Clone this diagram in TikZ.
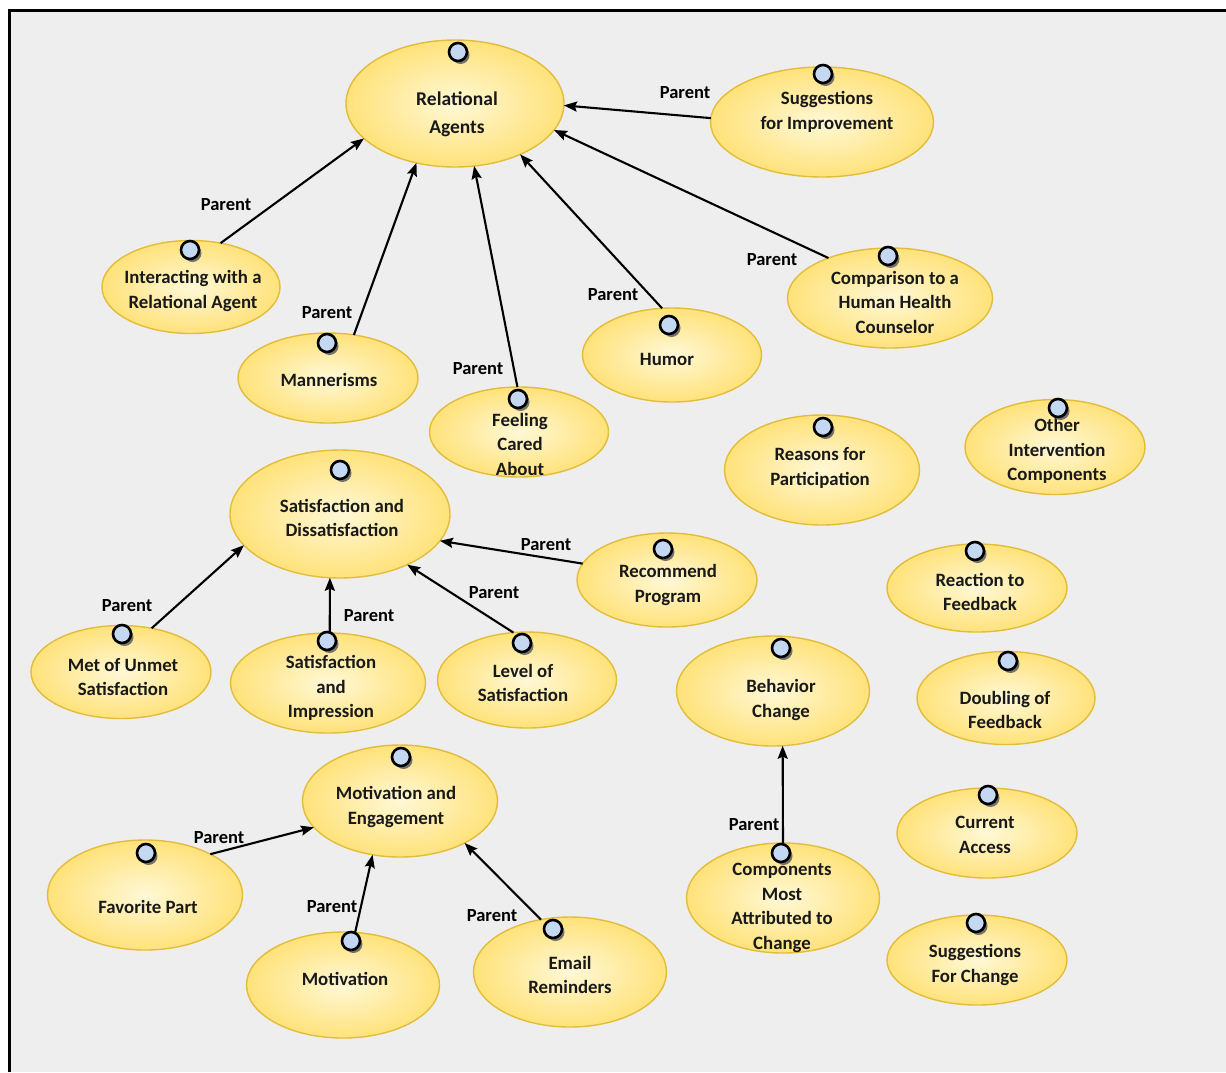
\documentclass[tikz,border=0pt]{standalone}
\usepackage{fontspec}
\setmainfont{Carlito}
\usetikzlibrary{arrows.meta,shadows,shapes.geometric}
\definecolor{bg}{HTML}{EEEEEE}
\definecolor{ellin}{HTML}{FFF8D6}
\definecolor{ellout}{HTML}{FFE27A}
\definecolor{elldraw}{HTML}{E3BD3A}
\definecolor{dotfill}{HTML}{C4D8F2}
\tikzset{
  ell/.style={ellipse, draw=elldraw, line width=1.4pt, inner color=ellin, outer color=ellout, inner sep=0pt, outer sep=0pt},
  txt/.style={align=center, font=\bfseries\fontsize{18.8}{24.5}\selectfont, inner sep=0pt, text=black!90},
  lbl/.style={font=\bfseries\fontsize{18.5}{20}\selectfont, inner sep=0pt},
  dotc/.style={circle, draw=black, line width=2.6pt, fill=dotfill, minimum size=18pt, inner sep=0pt,
    drop shadow={shadow xshift=2.5pt, shadow yshift=-3pt, fill=black!60, opacity=0.9}},
  par/.style={line width=2.1pt, -{Stealth[length=13pt,width=10pt,inset=2pt]}}
}
\begin{document}
\begin{tikzpicture}[x=1pt,y=-1pt]
\useasboundingbox (0,0) rectangle (1226,1072);
\fill[white] (0,0) rectangle (1226,1072);
\fill[bg] (9,10) rectangle (1226,1072);
\draw[line width=3pt] (9,1072) -- (9,10) -- (1226,10);

% ellipses: name, centre, size
\node[ell, minimum width=218, minimum height=127] (ra) at (455,103.5) {};
\node[ell, minimum width=223, minimum height=110] (sugg) at (822,122) {};
\node[ell, minimum width=178, minimum height=93] (inter) at (191,287) {};
\node[ell, minimum width=180, minimum height=90] (mann) at (328,378) {};
\node[ell, minimum width=179, minimum height=90] (feel) at (519,432) {};
\node[ell, minimum width=179, minimum height=94] (humor) at (672,355) {};
\node[ell, minimum width=205, minimum height=100] (comp) at (890,298) {};
\node[ell, minimum width=195, minimum height=110] (reas) at (822,470) {};
\node[ell, minimum width=180, minimum height=95] (other) at (1055,447) {};
\node[ell, minimum width=220, minimum height=128] (sat) at (340,514) {};
\node[ell, minimum width=180, minimum height=94] (rec) at (667,580) {};
\node[ell, minimum width=180, minimum height=88] (react) at (977,588) {};
\node[ell, minimum width=180, minimum height=93] (met) at (121,672) {};
\node[ell, minimum width=195, minimum height=100] (simp) at (328,683) {};
\node[ell, minimum width=179, minimum height=96] (level) at (527,680) {};
\node[ell, minimum width=193, minimum height=110] (beh) at (773,691) {};
\node[ell, minimum width=178, minimum height=93] (doub) at (1006,698) {};
\node[ell, minimum width=195, minimum height=112] (mot) at (400,801) {};
\node[ell, minimum width=180, minimum height=90] (curr) at (987,833) {};
\node[ell, minimum width=195, minimum height=110] (fav) at (145,895) {};
\node[ell, minimum width=193, minimum height=110] (compo) at (783,898) {};
\node[ell, minimum width=180, minimum height=90] (sch) at (977,960) {};
\node[ell, minimum width=193, minimum height=106] (motiv) at (343,985) {};
\node[ell, minimum width=193, minimum height=110] (email) at (570,972) {};

% texts
\node[txt, font=\bfseries\fontsize{19.5}{28}\selectfont] (ra-t) at (457,114) {Relational\\Agents};
\node[txt] (sugg-t) at (827,112) {Suggestions\\for Improvement};
\node[txt] (inter-t) at (193,291) {Interacting with a\\Relational Agent};
\node[txt] (mann-t) at (329,380) {Mannerisms};
\node[txt] (feel-t) at (520,444) {Feeling\\Cared\\About};
\node[txt] (humor-t) at (667,359) {Humor};
\node[txt] (comp-t) at (895,302) {Comparison to a\\Human Health\\Counselor};
\node[txt] (reas-t) at (820,468) {Reasons for\\Participation};
\node[txt] (other-t) at (1057,451) {Other\\Intervention\\Components};
\node[txt] (sat-t) at (342,518) {Satisfaction and\\Dissatisfaction};
\node[txt] (rec-t) at (668,585) {Recommend\\Program};
\node[txt] (react-t) at (980,592) {Reaction to\\Feedback};
\node[txt] (met-t) at (123,677) {Met of Unmet\\Satisfaction};
\node[txt] (simp-t) at (331,688) {Satisfaction\\and\\Impression};
\node[txt] (level-t) at (523,683) {Level of\\Satisfaction};
\node[txt] (beh-t) at (781,700) {Behavior\\Change};
\node[txt] (doub-t) at (1005,710) {Doubling of\\Feedback};
\node[txt] (mot-t) at (396,807) {Motivation and\\Engagement};
\node[txt] (curr-t) at (985,835) {Current\\Access};
\node[txt] (fav-t) at (148,907) {Favorite Part};
\node[txt] (compo-t) at (782,908) {Components\\Most\\Attributed to\\Change};
\node[txt] (sch-t) at (975,965) {Suggestions\\For Change};
\node[txt] (motiv-t) at (345,979) {Motivation};
\node[txt] (email-t) at (570,975) {Email\\Reminders};

% connectors
\draw[par] (inter.56) -- (ra.201.6);
\draw[par] (mann.59) -- (ra.237);
\draw[par] (feel.92) -- (ra.287);
\draw[par] (humor.102) -- (ra.322.6);
\draw[par] (comp.147) -- (ra.345.5);
\draw[par] (sugg.178) -- (ra.359);
\draw[par] (met.55) -- (sat.198.4);
\draw[par] (simp.88) -- (sat.261);
\draw[par] (level.106) -- (sat.323.6);
\draw[par] (rec.169.6) -- (sat.345.7);
\draw[par] (fav.32) -- (mot.197.6);
\draw[par] (motiv.77) -- (mot.243.8);
\draw[par] (email.119) -- (mot.327);
\draw[par] (compo.90) -- (beh.280);

% connector labels
\node[lbl] (l1) at (226,205) {Parent};
\node[lbl] (l2) at (327,313) {Parent};
\node[lbl] (l3) at (478,369) {Parent};
\node[lbl] (l4) at (613,295) {Parent};
\node[lbl] (l5) at (772,260) {Parent};
\node[lbl] (l6) at (685,93) {Parent};
\node[lbl] (l7) at (127,606) {Parent};
\node[lbl] (l8) at (369,616) {Parent};
\node[lbl] (l9) at (494,593) {Parent};
\node[lbl] (l10) at (546,545) {Parent};
\node[lbl] (l11) at (219,838) {Parent};
\node[lbl] (l12) at (332,907) {Parent};
\node[lbl] (l13) at (492,916) {Parent};
\node[lbl] (l14) at (754,825) {Parent};

% small circles
\node[dotc] (ra-c) at (458,52) {};
\node[dotc] (sugg-c) at (823,74) {};
\node[dotc] (inter-c) at (190,250) {};
\node[dotc] (mann-c) at (327,343) {};
\node[dotc] (feel-c) at (518,399) {};
\node[dotc] (humor-c) at (669,325) {};
\node[dotc] (comp-c) at (888,256) {};
\node[dotc] (reas-c) at (823,427) {};
\node[dotc] (other-c) at (1058,408) {};
\node[dotc] (sat-c) at (340,470) {};
\node[dotc] (rec-c) at (663,549) {};
\node[dotc] (react-c) at (975,551) {};
\node[dotc] (met-c) at (122,634) {};
\node[dotc] (simp-c) at (327,641) {};
\node[dotc] (level-c) at (522,643) {};
\node[dotc] (beh-c) at (781,648) {};
\node[dotc] (doub-c) at (1008,661) {};
\node[dotc] (mot-c) at (401,757) {};
\node[dotc] (curr-c) at (988,795) {};
\node[dotc] (fav-c) at (146,853) {};
\node[dotc] (compo-c) at (781,853) {};
\node[dotc] (sch-c) at (976,923) {};
\node[dotc] (motiv-c) at (351,941) {};
\node[dotc] (email-c) at (553,929) {};
\end{tikzpicture}
\end{document}
